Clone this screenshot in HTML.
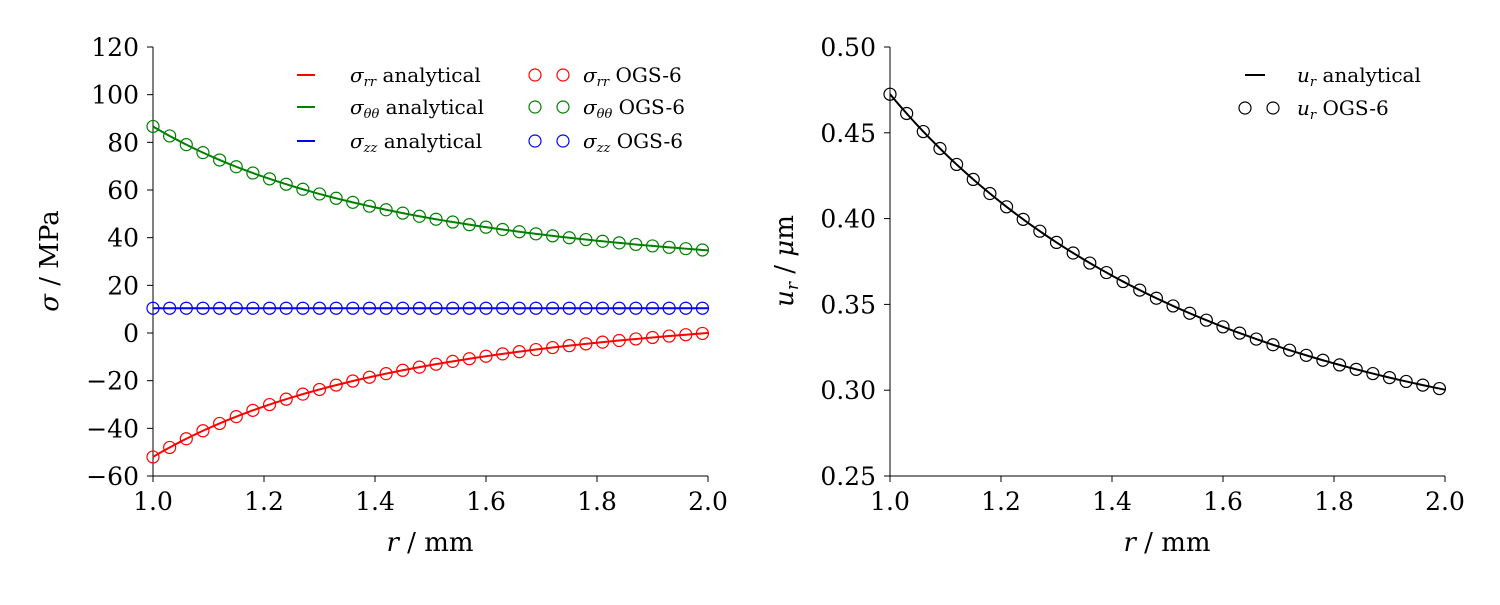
<!DOCTYPE html>
<html><head><meta charset="utf-8"><style>
body{margin:0;background:#fff}
svg text{font-family:"DejaVu Serif","Liberation Serif",serif;fill:#000}
.t{font-size:25px}
.a{font-size:26px}
.l{font-size:20px}
</style></head><body>
<svg id="s" width="1500" height="600" xmlns="http://www.w3.org/2000/svg"></svg>
<script>
const s=document.getElementById('s');let h='';
function L(x1,y1,x2,y2,c,w){h+=`<line x1="${x1}" y1="${y1}" x2="${x2}" y2="${y2}" stroke="${c||'#000'}" stroke-width="${w||1}"/>`}
function T(x,y,t,a,c){h+=`<text class="${c||'t'}" x="${x}" y="${y}" text-anchor="${a||'middle'}">${t}</text>`}
function C(x,y,c){h+=`<circle cx="${x}" cy="${y}" r="6" fill="none" stroke="${c}" stroke-width="1.2"/>`}
function axes(x0,fy,vals,fmt){
 L(x0,47,x0,476);L(x0,476,x0+555,476);
 vals.forEach(v=>{const y=fy(v);L(x0-6,y,x0,y);T(x0-14,y+9,fmt(v),'end')});
 for(let i=0;i<=5;i++){const x=x0+i*111;L(x,476,x,482);T(x,510,(1+i*0.2).toFixed(1))}
 T(x0+277,551,'<tspan font-style="italic">r</tspan> / mm','middle','a');
}
const fy1=v=>47+(120-v)*429/180, fy2=v=>47+(0.5-v)*429/0.25;
axes(153,fy1,[120,100,80,60,40,20,0,-20,-40,-60],v=>v<0?'−'+(-v):v);
axes(890,fy2,[0.5,0.45,0.4,0.35,0.3,0.25],v=>v.toFixed(2));
h+=`<text class="a" transform="translate(58,261) rotate(-90)" text-anchor="middle"><tspan font-style="italic">σ</tspan> / MPa</text>`;
h+=`<text class="a" transform="translate(793,261) rotate(-90)" text-anchor="middle"><tspan font-style="italic">u</tspan><tspan font-size="17" font-style="italic" dy="5">r</tspan><tspan dy="-5"> / </tspan><tspan font-style="italic">μ</tspan>m</text>`;
const A=17.33,B=69.33,a=0.0427,b=0.4298;
const f=[[r=>A-B/r/r,'red'],[r=>A+B/r/r,'green'],[r=>10.4,'blue']];
f.forEach(([g,c])=>{let p='';for(let i=0;i<=100;i++){const r=1+i/100;p+=(i?'L':'M')+(153+(r-1)*555)+','+fy1(g(r))}h+=`<path d="${p}" fill="none" stroke="${c}" stroke-width="2"/>`;
 for(let k=0;k<34;k++){const r=1+k*0.03;C(153+(r-1)*555,fy1(g(r)),c)}});
{let p='';const g=r=>a*r+b/r;for(let i=0;i<=100;i++){const r=1+i/100;p+=(i?'L':'M')+(890+(r-1)*555)+','+fy2(g(r))}h+=`<path d="${p}" fill="none" stroke="#000" stroke-width="2"/>`;
 for(let k=0;k<34;k++){const r=1+k*0.03;C(890+(r-1)*555,fy2(g(r)),'#000')}}
const subs=['rr','θθ','zz'],cols=['red','green','blue'];
subs.forEach((sb,i)=>{const y=[75,107,141][i];L(297,y,315,y,cols[i],2);
 T(350,y+7,`<tspan font-style="italic">σ</tspan><tspan font-size="13" font-style="italic" dy="4">${sb}</tspan><tspan dy="-4"> analytical</tspan>`,'start','l');
 C(535,y,cols[i]);C(563,y,cols[i]);
 T(583,y+7,`<tspan font-style="italic">σ</tspan><tspan font-size="13" font-style="italic" dy="4">${sb}</tspan><tspan dy="-4"> OGS-6</tspan>`,'start','l');});
L(1245,75,1265,75,'#000',2);
T(1297,82,`<tspan font-style="italic">u</tspan><tspan font-size="13" font-style="italic" dy="4">r</tspan><tspan dy="-4"> analytical</tspan>`,'start','l');
C(1245,108,'#000');C(1273,108,'#000');
T(1297,115,`<tspan font-style="italic">u</tspan><tspan font-size="13" font-style="italic" dy="4">r</tspan><tspan dy="-4"> OGS-6</tspan>`,'start','l');
s.innerHTML=h;
</script>
</body></html>
